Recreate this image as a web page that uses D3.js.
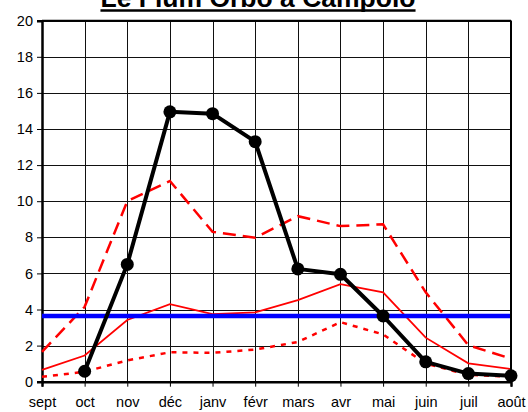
<!DOCTYPE html>
<html>
<head>
<meta charset="utf-8">
<script src="https://cdn.jsdelivr.net/npm/d3@7"></script>
<style>
  body { margin: 0; background: #fff; }
  svg text { font-family: "Liberation Sans", Arial, sans-serif; }
</style>
</head>
<body>
<div id="chart"></div>
<script>
const width = 528;
const height = 412;

const months = ["sept", "oct", "nov", "déc", "janv", "févr", "mars", "avr", "mai", "juin", "juil", "août"];
const yTicks = [0, 2, 4, 6, 8, 10, 12, 14, 16, 18, 20];

// débits mensuels (m3/s)
const measured = [null, 0.58, 6.5, 14.95, 14.85, 13.3, 6.25, 5.95, 3.64, 1.1, 0.45, 0.33];
const highYear = [1.65, 4.15, 10.0, 11.12, 8.3, 7.98, 9.17, 8.62, 8.72, 4.95, 2.02, 1.28];
const mean = [0.65, 1.45, 3.42, 4.3, 3.74, 3.84, 4.52, 5.4, 4.95, 2.44, 1.02, 0.7];
const lowYear = [0.27, 0.55, 1.18, 1.63, 1.6, 1.78, 2.2, 3.3, 2.62, 1.0, 0.38, 0.27];
const module = 3.64;

const title = "Le Fium Orbo à Campolo";

const margin = { left: 42, right: 17, top: 20.7, bottom: 30.3 };

const svg = d3.select("#chart").append("svg")
  .attr("width", width)
  .attr("height", height);

const x = d3.scalePoint()
  .domain(months)
  .range([margin.left, width - margin.right]);

const y = d3.scaleLinear()
  .domain([0, 20])
  .range([height - margin.bottom, margin.top]);

// grid
svg.append("g")
  .selectAll("line.h")
  .data(yTicks)
  .join("line")
  .attr("x1", margin.left).attr("x2", width - margin.right)
  .attr("y1", d => Math.round(y(d)) + 0.5).attr("y2", d => Math.round(y(d)) + 0.5)
  .attr("stroke", "#111").attr("stroke-width", 1);

svg.append("g")
  .selectAll("line.v")
  .data(months)
  .join("line")
  .attr("x1", d => Math.round(x(d)) + 0.5).attr("x2", d => Math.round(x(d)) + 0.5)
  .attr("y1", y(20)).attr("y2", y(0))
  .attr("stroke", "#111").attr("stroke-width", 1);

// y axis
const yAxis = svg.append("g")
  .attr("transform", `translate(${margin.left}, 0)`)
  .call(d3.axisLeft(y).tickValues(yTicks).tickSize(5).tickPadding(4));
yAxis.select(".domain").attr("stroke-width", 2.5).attr("stroke", "#000");
yAxis.selectAll("text").attr("font-size", 14.5).attr("fill", "#000");

// x axis
const xAxis = svg.append("g")
  .attr("transform", `translate(0, ${y(0)})`)
  .call(d3.axisBottom(x).tickSize(5).tickPadding(10));
xAxis.select(".domain").attr("stroke-width", 2.5).attr("stroke", "#000");
xAxis.selectAll("text").attr("font-size", 14.5).attr("fill", "#000");

// lines
const line = d3.line()
  .defined(d => d.v !== null)
  .x(d => x(d.m))
  .y(d => y(d.v));

const toPts = arr => arr.map((v, i) => ({ m: months[i], v }));

svg.append("path")
  .attr("d", line(toPts(lowYear)))
  .attr("fill", "none").attr("stroke", "#ff0000")
  .attr("stroke-width", 2.5).attr("stroke-dasharray", "5,6");

svg.append("path")
  .attr("d", line(toPts(mean)))
  .attr("fill", "none").attr("stroke", "#ff0000")
  .attr("stroke-width", 1.8);

svg.append("path")
  .attr("d", line(toPts(highYear)))
  .attr("fill", "none").attr("stroke", "#ff0000")
  .attr("stroke-width", 2.5).attr("stroke-dasharray", "13,7");

svg.append("line")
  .attr("x1", x(months[0])).attr("x2", x(months[months.length - 1]))
  .attr("y1", y(module)).attr("y2", y(module))
  .attr("stroke", "#0000ff").attr("stroke-width", 4.5);

svg.append("path")
  .attr("d", line(toPts(measured)))
  .attr("fill", "none").attr("stroke", "#000")
  .attr("stroke-width", 4).attr("stroke-linejoin", "round");

svg.append("g")
  .selectAll("circle")
  .data(toPts(measured).filter(d => d.v !== null))
  .join("circle")
  .attr("cx", d => x(d.m))
  .attr("cy", d => y(d.v))
  .attr("r", 6.5)
  .attr("fill", "#000");

// plot border top/right
svg.append("line")
  .attr("x1", margin.left).attr("x2", width - margin.right)
  .attr("y1", y(20)).attr("y2", y(20))
  .attr("stroke", "#000").attr("stroke-width", 2);
svg.append("line")
  .attr("x1", width - margin.right).attr("x2", width - margin.right)
  .attr("y1", y(20)).attr("y2", y(0))
  .attr("stroke", "#000").attr("stroke-width", 2);

// title, underlined (top is cut by the frame, as in the source)
const t = svg.append("text")
  .attr("x", 258)
  .attr("y", 7)
  .attr("text-anchor", "middle")
  .attr("font-size", 26.5)
  .attr("font-weight", "bold")
  .text(title);
const tw = t.node().getComputedTextLength();
svg.append("line")
  .attr("x1", 258 - tw / 2).attr("x2", 258 + tw / 2)
  .attr("y1", 10.5).attr("y2", 10.5)
  .attr("stroke", "#000").attr("stroke-width", 2.5);
</script>
</body>
</html>
